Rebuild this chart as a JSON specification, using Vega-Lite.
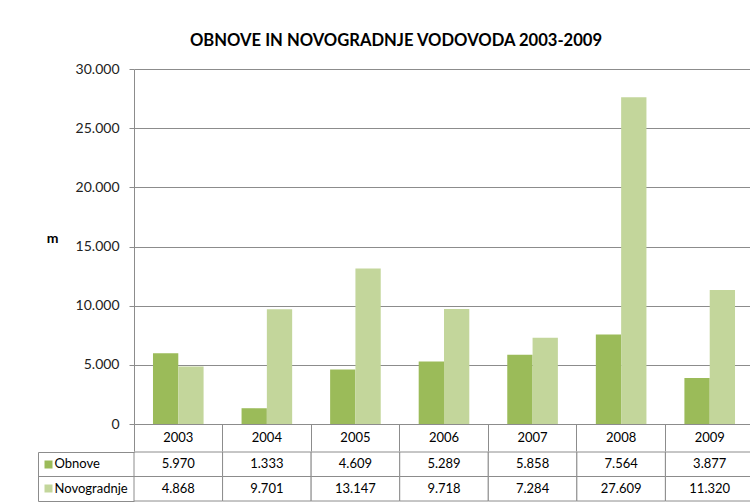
{
  "$schema": "https://vega.github.io/schema/vega-lite/v6.json",
  "background": "white",
  "padding": {"left": 37, "top": 33, "right": 0, "bottom": 0},
  "spacing": -7,
  "title": {
    "text": "OBNOVE IN NOVOGRADNJE VODOVODA 2003-2009",
    "font": "Lato",
    "fontSize": 16.6,
    "fontWeight": "bold",
    "color": "#000000",
    "anchor": "middle",
    "offset": 12
  },
  "config": {
    "font": "Lato",
    "locale": {
      "number": {"decimal": ",", "thousands": ".", "grouping": [3], "currency": ["", " €"]}
    },
    "view": {"stroke": null},
    "axis": {"labelFont": "Lato", "titleFont": "Lato"}
  },
  "datasets": {
    "d": [
      {"year": "2003", "series": "Obnove", "value": 5970},
      {"year": "2004", "series": "Obnove", "value": 1333},
      {"year": "2005", "series": "Obnove", "value": 4609},
      {"year": "2006", "series": "Obnove", "value": 5289},
      {"year": "2007", "series": "Obnove", "value": 5858},
      {"year": "2008", "series": "Obnove", "value": 7564},
      {"year": "2009", "series": "Obnove", "value": 3877},
      {"year": "2003", "series": "Novogradnje", "value": 4868},
      {"year": "2004", "series": "Novogradnje", "value": 9701},
      {"year": "2005", "series": "Novogradnje", "value": 13147},
      {"year": "2006", "series": "Novogradnje", "value": 9718},
      {"year": "2007", "series": "Novogradnje", "value": 7284},
      {"year": "2008", "series": "Novogradnje", "value": 27609},
      {"year": "2009", "series": "Novogradnje", "value": 11320}
    ]
  },
  "vconcat": [
    {
      "width": 620,
      "height": 355,
      "data": {"name": "d"},
      "mark": {"type": "bar"},
      "encoding": {
        "x": {
          "field": "year",
          "type": "nominal",
          "scale": {"paddingInner": 0, "paddingOuter": 0},
          "axis": {
            "title": null,
            "labelAngle": 0,
            "bandPosition": 1,
            "tickExtra": true,
            "tickSize": 27,
            "tickColor": "#8c8c8c",
            "domainColor": "#8c8c8c",
            "labelPadding": -13.5,
            "labelBaseline": "middle",
            "labelFontSize": 13,
            "labelColor": "#000000",
            "minExtent": 0,
            "maxExtent": 27
          }
        },
        "xOffset": {
          "field": "series",
          "type": "nominal",
          "sort": ["Obnove", "Novogradnje"],
          "scale": {"paddingInner": 0, "paddingOuter": 0.75}
        },
        "y": {
          "field": "value",
          "type": "quantitative",
          "scale": {"domain": [0, 30000]},
          "axis": {
            "values": [0, 5000, 10000, 15000, 20000, 25000, 30000],
            "format": ",d",
            "grid": true,
            "gridColor": "#8c8c8c",
            "domainColor": "#8c8c8c",
            "tickColor": "#8c8c8c",
            "tickSize": 5,
            "labelPadding": 10,
            "labelFontSize": 14,
            "labelColor": "#222222",
            "title": "m",
            "titleAngle": 0,
            "titleFontSize": 14,
            "titleFontWeight": "bold",
            "titleColor": "#000000",
            "titleAlign": "center",
            "titleBaseline": "middle",
            "titleX": -82,
            "titleY": 169
          }
        },
        "color": {
          "field": "series",
          "type": "nominal",
          "sort": ["Obnove", "Novogradnje"],
          "scale": {"range": ["#9BBB59", "#C3D69B"]},
          "legend": null
        }
      }
    },
    {
      "width": 620,
      "height": 49,
      "data": {"name": "d"},
      "layer": [
        {
          "mark": {"type": "rect", "fill": "white", "stroke": "#8c8c8c", "strokeWidth": 1},
          "encoding": {
            "x": {
              "field": "year",
              "type": "nominal",
              "scale": {"paddingInner": 0, "paddingOuter": 0},
              "axis": null
            },
            "y": {
              "field": "series",
              "type": "nominal",
              "sort": ["Obnove", "Novogradnje"],
              "scale": {"paddingInner": 0, "paddingOuter": 0},
              "axis": {
                "orient": "left",
                "title": null,
                "offset": 96,
                "domain": true,
                "domainColor": "#8c8c8c",
                "ticks": true,
                "tickSize": -96,
                "tickColor": "#8c8c8c",
                "bandPosition": 1,
                "tickExtra": true,
                "labelAlign": "left",
                "labelPadding": 80,
                "labelFontSize": 13,
                "labelColor": "#000000",
                "grid": false
              }
            }
          }
        },
        {
          "mark": {"type": "text", "fontSize": 13, "color": "#000000"},
          "encoding": {
            "x": {"field": "year", "type": "nominal", "axis": null},
            "y": {
              "field": "series",
              "type": "nominal",
              "sort": ["Obnove", "Novogradnje"],
              "axis": {
                "orient": "left",
                "title": null,
                "offset": 90,
                "domain": false,
                "labels": false,
                "ticks": true,
                "tickSize": -8,
                "tickWidth": 8,
                "tickCap": "butt",
                "bandPosition": 0.5,
                "tickColor": {
                  "condition": {"test": "datum.value === 'Obnove'", "value": "#9BBB59"},
                  "value": "#C3D69B"
                },
                "grid": false
              }
            },
            "text": {"field": "value", "type": "quantitative", "format": ",d"}
          }
        }
      ],
      "resolve": {"axis": {"y": "independent"}}
    }
  ]
}
